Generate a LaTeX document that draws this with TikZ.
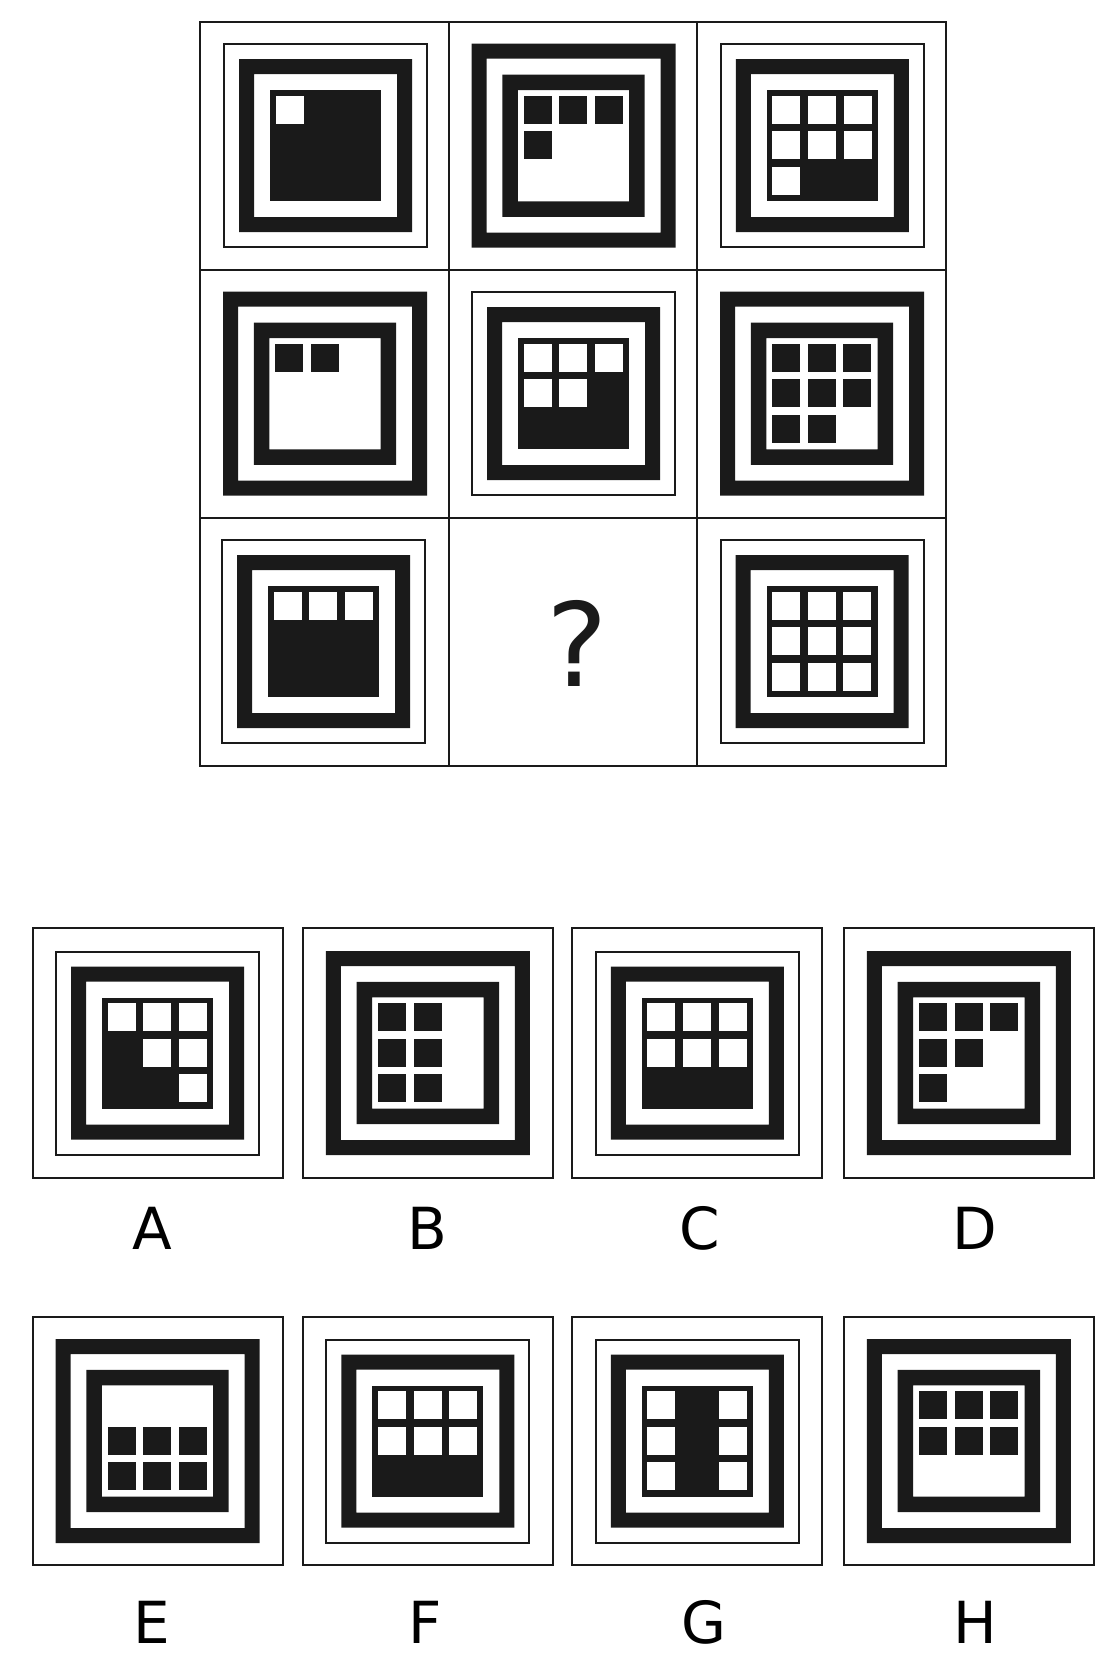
\documentclass[tikz,border=0pt]{standalone}
\usepackage{fontspec}
\setmainfont{DejaVu Sans}
\definecolor{ink}{RGB}{26,26,26}
\tikzset{
  gridline/.style={line width=1pt, draw=ink},
  thinframe/.style={line width=1pt, draw=ink},
  band/.style={fill=ink, even odd rule},
  optlabel/.style={font=\fontsize{29}{34}\selectfont, anchor=base, inner sep=0pt},
}
% tile with thin frame, one band and a dark core (marked cells white)
\newcommand{\tilea}[3]{%
  \draw[thinframe] (#1-101.5,#2-101.5) rectangle (#1+101.5,#2+101.5);
  \fill[band] (#1-86.5,#2-86.5) rectangle (#1+86.5,#2+86.5)
              (#1-71.5,#2-71.5) rectangle (#1+71.5,#2+71.5);
  \fill[ink] (#1-55.5,#2-55.5) rectangle (#1+55.5,#2+55.5);
  \foreach \r/\c in {#3}
    \fill[white] (#1-85.7+35.7*\c,#2-85.7+35.7*\r) rectangle ++(28,28);
}
% tile with two bands and a light core (marked cells dark)
\newcommand{\tileb}[3]{%
  \fill[band] (#1-102,#2-102) rectangle (#1+102,#2+102)
              (#1-87,#2-87) rectangle (#1+87,#2+87);
  \fill[band] (#1-71.2,#2-71.2) rectangle (#1+71.2,#2+71.2)
              (#1-55.7,#2-55.7) rectangle (#1+55.7,#2+55.7);
  \foreach \r/\c in {#3}
    \fill[ink] (#1-85.7+35.7*\c,#2-85.7+35.7*\r) rectangle ++(28,28);
}
\begin{document}
\begin{tikzpicture}[x=0.5pt,y=-0.5pt]
\useasboundingbox (0,0) rectangle (1114,1660);
\draw[gridline] (200,21.7) rectangle (945.7,765.7);
\draw[gridline] (448.6,21.7) -- (448.6,765.7);
\draw[gridline] (697.2,21.7) -- (697.2,765.7);
\draw[gridline] (200,269.7) -- (945.7,269.7);
\draw[gridline] (200,517.7) -- (945.7,517.7);
\tilea{325.5}{145.7}{1/1}
\tileb{573.5}{145.7}{1/1,1/2,1/3,2/1}
\tilea{822.4}{145.7}{1/1,1/2,1/3,2/1,2/2,2/3,3/1}
\tileb{325}{393.7}{1/1,1/2}
\tilea{573.5}{393.7}{1/1,1/2,1/3,2/1,2/2}
\tileb{822}{393.7}{1/1,1/2,1/3,2/1,2/2,2/3,3/1,3/2}
\tilea{323.5}{641.7}{1/1,1/2,1/3}
\node[font=\fontsize{58}{68}\selectfont, anchor=base, inner sep=0pt, text=ink] (qmark) at (577,686) {?};
\tilea{822}{641.7}{1/1,1/2,1/3,2/1,2/2,2/3,3/1,3/2,3/3}
\draw[thinframe] (32.5,928) rectangle (282.5,1177.5);
\draw[thinframe] (302.8,928) rectangle (552.8,1177.5);
\draw[thinframe] (572.3,928) rectangle (822.3,1177.5);
\draw[thinframe] (843.8,928) rectangle (1093.8,1177.5);
\draw[thinframe] (32.5,1316.5) rectangle (282.5,1565);
\draw[thinframe] (302.8,1316.5) rectangle (552.8,1565);
\draw[thinframe] (572.3,1316.5) rectangle (822.3,1565);
\draw[thinframe] (843.8,1316.5) rectangle (1093.8,1565);
\tilea{157.5}{1053}{1/1,1/2,1/3,2/2,2/3,3/3}
\tileb{427.8}{1053}{1/1,1/2,2/1,2/2,3/1,3/2}
\tilea{697.3}{1053}{1/1,1/2,1/3,2/1,2/2,2/3}
\tileb{968.8}{1053}{1/1,1/2,1/3,2/1,2/2,3/1}
\tileb{157.5}{1441}{2/1,2/2,2/3,3/1,3/2,3/3}
\tilea{427.8}{1441}{1/1,1/2,1/3,2/1,2/2,2/3}
\tilea{697.3}{1441}{1/1,2/1,3/1,1/3,2/3,3/3}
\tileb{968.8}{1441}{1/1,1/2,1/3,2/1,2/2,2/3}
\node[optlabel] (labA) at (152,1249) {A};
\node[optlabel] (labB) at (427,1249) {B};
\node[optlabel] (labC) at (700,1249) {C};
\node[optlabel] (labD) at (975,1249) {D};
\node[optlabel] (labE) at (152,1643) {E};
\node[optlabel] (labF) at (425,1643) {F};
\node[optlabel] (labG) at (704,1643) {G};
\node[optlabel] (labH) at (975,1643) {H};
\end{tikzpicture}
\end{document}
